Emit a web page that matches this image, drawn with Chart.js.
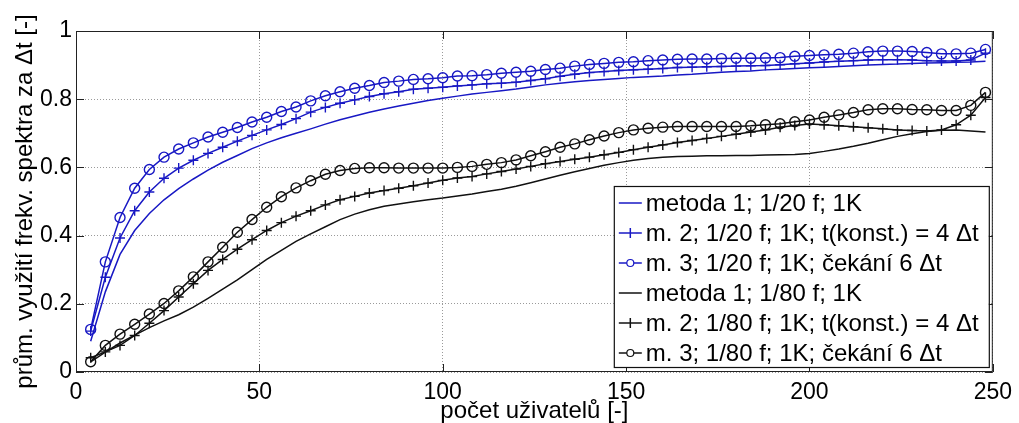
<!DOCTYPE html>
<html>
<head>
<meta charset="utf-8">
<script src="https://cdn.jsdelivr.net/npm/chart.js@4/dist/chart.umd.min.js"></script>
<style>
  html, body { margin: 0; padding: 0; background: #ffffff; }
  #wrap { width: 1019px; height: 423px; position: relative; }
</style>
</head>
<body>
<div id="wrap"><canvas id="c" width="1019" height="423"></canvas></div>
<script>
// ---- categories (počet uživatelů) ----
const users = [4, 8, 12, 16, 20, 24, 28, 32, 36, 40, 44, 48, 52, 56, 60, 64, 68, 72, 76, 80,
  84, 88, 92, 96, 100, 104, 108, 112, 116, 120, 124, 128, 132, 136, 140, 144, 148, 152, 156, 160,
  164, 168, 172, 176, 180, 184, 188, 192, 196, 200, 204, 208, 212, 216, 220, 224, 228, 232, 236, 240,
  244, 248];

// ---- series values ----
const m1_20 = [0.09, 0.235, 0.345, 0.415, 0.465, 0.505, 0.538, 0.566, 0.592, 0.615, 0.635, 0.655, 0.672, 0.687, 0.700, 0.713,
  0.727, 0.740, 0.751, 0.762, 0.771, 0.780, 0.788, 0.796, 0.803, 0.809, 0.815, 0.820, 0.825, 0.830, 0.836, 0.842,
  0.847, 0.851, 0.855, 0.858, 0.861, 0.864, 0.866, 0.868, 0.871, 0.873, 0.876, 0.879, 0.881, 0.883, 0.886, 0.888,
  0.890, 0.892, 0.894, 0.896, 0.898, 0.900, 0.902, 0.903, 0.905, 0.906, 0.907, 0.908, 0.909, 0.911];

const m2_20 = [0.12, 0.278, 0.393, 0.473, 0.528, 0.568, 0.598, 0.621, 0.641, 0.659, 0.677, 0.694, 0.710, 0.726, 0.743, 0.762,
  0.776, 0.788, 0.798, 0.808, 0.816, 0.822, 0.829, 0.832, 0.835, 0.839, 0.842, 0.845, 0.847, 0.850, 0.855, 0.860,
  0.867, 0.873, 0.878, 0.881, 0.884, 0.886, 0.888, 0.890, 0.893, 0.894, 0.895, 0.896, 0.897, 0.898, 0.899, 0.901,
  0.904, 0.906, 0.909, 0.911, 0.913, 0.915, 0.916, 0.916, 0.915, 0.913, 0.912, 0.912, 0.915, 0.935];

const m3_20 = [0.125, 0.323, 0.453, 0.539, 0.594, 0.630, 0.654, 0.672, 0.689, 0.703, 0.717, 0.733, 0.747, 0.764, 0.777, 0.795,
  0.810, 0.822, 0.832, 0.840, 0.849, 0.853, 0.858, 0.860, 0.863, 0.868, 0.869, 0.872, 0.876, 0.879, 0.882, 0.887,
  0.891, 0.897, 0.902, 0.905, 0.908, 0.910, 0.913, 0.915, 0.917, 0.918, 0.918, 0.919, 0.920, 0.920, 0.921, 0.922,
  0.926, 0.928, 0.930, 0.932, 0.935, 0.939, 0.941, 0.941, 0.940, 0.937, 0.933, 0.933, 0.935, 0.946];

const m1_80 = [0.03, 0.058, 0.085, 0.108, 0.130, 0.150, 0.168, 0.190, 0.216, 0.243, 0.270, 0.300, 0.330, 0.357, 0.383, 0.405,
  0.426, 0.447, 0.463, 0.476, 0.486, 0.493, 0.499, 0.505, 0.510, 0.516, 0.522, 0.529, 0.536, 0.545, 0.555, 0.566,
  0.577, 0.587, 0.597, 0.606, 0.614, 0.621, 0.626, 0.630, 0.632, 0.633, 0.634, 0.634, 0.635, 0.635, 0.636, 0.637,
  0.638, 0.641, 0.647, 0.654, 0.662, 0.671, 0.681, 0.691, 0.699, 0.705, 0.709, 0.710, 0.707, 0.704];

const m2_80 = [0.042, 0.059, 0.078, 0.107, 0.143, 0.180, 0.220, 0.259, 0.298, 0.330, 0.360, 0.388, 0.415, 0.438, 0.457, 0.473,
  0.490, 0.505, 0.515, 0.525, 0.532, 0.539, 0.546, 0.554, 0.562, 0.569, 0.573, 0.581, 0.588, 0.595, 0.603, 0.611,
  0.617, 0.624, 0.630, 0.637, 0.644, 0.652, 0.659, 0.666, 0.673, 0.679, 0.685, 0.691, 0.697, 0.704, 0.710, 0.718,
  0.723, 0.727, 0.725, 0.722, 0.719, 0.716, 0.713, 0.710, 0.708, 0.707, 0.710, 0.725, 0.753, 0.805];

const m3_80 = [0.03, 0.078, 0.111, 0.140, 0.170, 0.201, 0.238, 0.279, 0.323, 0.366, 0.410, 0.447, 0.483, 0.514, 0.540, 0.561,
  0.580, 0.591, 0.597, 0.599, 0.599, 0.598, 0.598, 0.598, 0.598, 0.600, 0.603, 0.609, 0.614, 0.622, 0.634, 0.646,
  0.659, 0.669, 0.681, 0.692, 0.702, 0.710, 0.715, 0.718, 0.720, 0.720, 0.720, 0.720, 0.720, 0.722, 0.725, 0.728,
  0.734, 0.739, 0.747, 0.754, 0.761, 0.769, 0.772, 0.772, 0.770, 0.769, 0.767, 0.767, 0.782, 0.820];

// ---- labels & ticks ----
const seriesLabels = [
  'metoda 1; 1/20 f; 1K',
  'm. 2; 1/20 f; 1K; t(konst.) = 4 \u0394t',
  'm. 3; 1/20 f; 1K; čekání 6 \u0394t',
  'metoda 1; 1/80 f; 1K',
  'm. 2; 1/80 f; 1K; t(konst.) = 4 \u0394t',
  'm. 3; 1/80 f; 1K; čekání 6 \u0394t'
];
const xTicks = [0, 50, 100, 150, 200, 250];
const yTicks = [0, 0.2, 0.4, 0.6, 0.8, 1];
const xTitle = 'počet uživatelů [-]';
const yTitle = 'prům. využití frekv. spektra za \u0394t [-]';

const BLUE = '#1818c4';
const BLACK = '#111111';
const FONT = 'Arial, "Liberation Sans", Helvetica, sans-serif';

function pts(vals) { return users.map((u, i) => ({ x: u, y: vals[i] })); }

function ds(label, vals, color, marker) {
  return {
    label: label,
    data: pts(vals),
    borderColor: color,
    backgroundColor: 'rgba(0,0,0,0)',
    borderWidth: 1.5,
    pointStyle: marker || 'circle',
    pointRadius: marker ? 5 : 0,
    pointHoverRadius: marker ? 5 : 0,
    pointBorderWidth: 1.4,
    pointBorderColor: color,
    pointBackgroundColor: 'rgba(0,0,0,0)',
    tension: 0,
    fill: false,
    _marker: marker
  };
}

const datasets = [
  ds(seriesLabels[0], m1_20, BLUE, null),
  ds(seriesLabels[1], m2_20, BLUE, 'cross'),
  ds(seriesLabels[2], m3_20, BLUE, 'circle'),
  ds(seriesLabels[3], m1_80, BLACK, null),
  ds(seriesLabels[4], m2_80, BLACK, 'cross'),
  ds(seriesLabels[5], m3_80, BLACK, 'circle')
];

const framePlugin = {
  id: 'frame',
  afterDatasetsDraw(chart) {
    const { ctx, chartArea: a, scales } = chart;
    const xs = scales.x, ys = scales.y;
    ctx.save();
    ctx.strokeStyle = '#222';
    ctx.lineWidth = 1;
    ctx.strokeRect(a.left + 0.5, a.top + 0.5, a.right - a.left - 1, a.bottom - a.top - 1);
    const tl = 8;
    ctx.beginPath();
    xTicks.forEach(v => {
      const px = Math.round(xs.getPixelForValue(v)) + 0.5;
      ctx.moveTo(px, a.bottom); ctx.lineTo(px, a.bottom - tl);
      ctx.moveTo(px, a.top); ctx.lineTo(px, a.top + tl);
    });
    yTicks.forEach(v => {
      const py = Math.round(ys.getPixelForValue(v)) + 0.5;
      ctx.moveTo(a.left, py); ctx.lineTo(a.left + tl, py);
      ctx.moveTo(a.right, py); ctx.lineTo(a.right - tl, py);
    });
    ctx.stroke();
    ctx.restore();
  },
  afterDraw(chart) {
    const { ctx, chartArea: a } = chart;
    const w = 375, h = 181;
    const right = a.right - 4, bottom = a.bottom - 5;
    const left = right - w, top = bottom - h;
    ctx.save();
    ctx.fillStyle = '#fff';
    ctx.fillRect(left, top, w, h);
    ctx.strokeStyle = '#111';
    ctx.lineWidth = 1.2;
    ctx.strokeRect(left + 0.5, top + 0.5, w, h);
    ctx.font = '24px ' + FONT;
    ctx.textBaseline = 'middle';
    ctx.textAlign = 'left';
    chart.data.datasets.forEach((d, i) => {
      const cy = top + 17 + i * 30;
      const x0 = left + 5, x1 = left + 28, xm = (x0 + x1) / 2;
      ctx.strokeStyle = d.borderColor;
      ctx.lineWidth = 1.5;
      ctx.beginPath(); ctx.moveTo(x0, cy); ctx.lineTo(x1, cy); ctx.stroke();
      if (d._marker === 'cross') {
        ctx.beginPath(); ctx.moveTo(xm, cy - 5); ctx.lineTo(xm, cy + 5); ctx.stroke();
      } else if (d._marker === 'circle') {
        ctx.lineWidth = 1.2;
        ctx.beginPath(); ctx.arc(xm, cy, 3.5, 0, Math.PI * 2); ctx.fillStyle = '#fff'; ctx.fill(); ctx.stroke();
      }
      ctx.fillStyle = '#000';
      ctx.fillText(d.label, left + 32, cy + 1);
    });
    ctx.restore();
  }
};

new Chart(document.getElementById('c'), {
  type: 'line',
  data: { datasets: datasets },
  plugins: [framePlugin],
  options: {
    responsive: false,
    animation: false,
    devicePixelRatio: 1,
    layout: { padding: { left: 0, top: 31, right: 23, bottom: 0 } },
    plugins: { legend: { display: false }, tooltip: { enabled: false } },
    scales: {
      x: {
        type: 'linear', min: 0, max: 250,
        afterBuildTicks: s => { s.ticks = xTicks.map(v => ({ value: v })); },
        afterFit: s => { s.height = 51; },
        ticks: { color: '#000', font: { family: FONT, size: 23 }, padding: 7, maxRotation: 0 },
        grid: { color: '#9a9a9a', lineWidth: 1, drawTicks: false },
        border: { display: false, dash: [1, 2] },
        title: { display: true, text: xTitle, color: '#000', font: { family: FONT, size: 24, lineHeight: 1 }, padding: { top: 0, bottom: 0 } }
      },
      y: {
        type: 'linear', min: 0, max: 1,
        afterBuildTicks: s => { s.ticks = yTicks.map(v => ({ value: v })); },
        afterFit: s => { s.width = 76; },
        ticks: { color: '#000', font: { family: FONT, size: 23 }, padding: 4,
                 callback: v => String(Math.round(v * 10) / 10) },
        grid: { color: '#9a9a9a', lineWidth: 1, drawTicks: false },
        border: { display: false, dash: [1, 2] },
        title: { display: true, text: yTitle, color: '#000', font: { family: FONT, size: 24, lineHeight: 1 }, padding: { top: 13, bottom: 0 } }
      }
    }
  }
});
</script>
</body>
</html>
